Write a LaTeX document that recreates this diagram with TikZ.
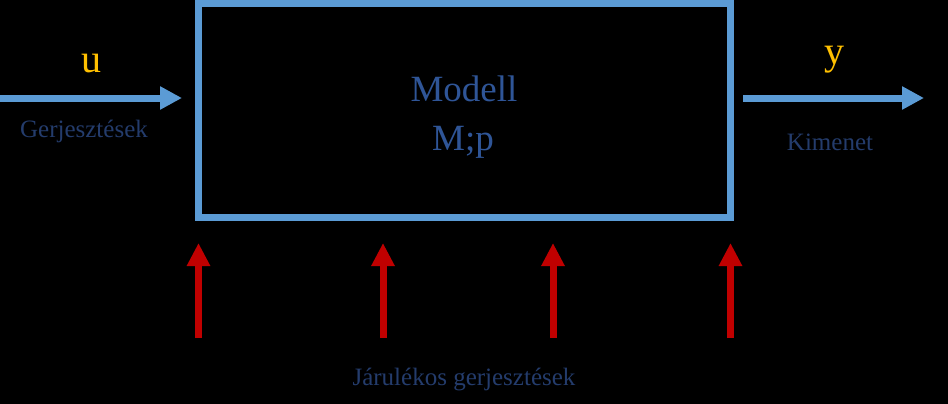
\documentclass[tikz,border=0pt]{standalone}
\usepackage{fontspec}
\setmainfont{Liberation Serif}
\usetikzlibrary{arrows.meta}

\definecolor{lineblue}{RGB}{91,155,213}
\definecolor{gold}{RGB}{255,192,0}
\definecolor{darkred}{RGB}{192,0,0}
\definecolor{modelltext}{RGB}{47,85,151}
\definecolor{labeltext}{RGB}{36,60,108}

\tikzstyle{box} = [rectangle, draw=lineblue, line width=7pt, minimum width=532pt, minimum height=214pt, inner sep=0pt]
\tikzstyle{io} = [draw=lineblue, line width=7pt, -{Triangle[width=22pt,length=22pt]}]
\tikzstyle{dist} = [draw=darkred, line width=7pt, -{Triangle[width=22pt,length=23pt]}]
\tikzstyle{sig} = [anchor=base, inner sep=0pt, text=gold, font=\fontsize{40}{48}\selectfont]
\tikzstyle{lbl} = [anchor=base, inner sep=0pt, text=labeltext, font=\fontsize{25}{30}\selectfont]
\tikzstyle{mtxt} = [anchor=base, inner sep=0pt, text=modelltext, font=\fontsize{37}{44}\selectfont]

\begin{document}
\begin{tikzpicture}[x=1pt,y=-1pt]
\path[use as bounding box, fill=black] (0,0) rectangle (948,404);

\node[box] (Modell) at (464.5,110.5) {};
\node[mtxt] (ModellName) at (464,102) {Modell};
\node[mtxt] (ModellPar) at (463,150) {M;p};

\coordinate (In) at (0,98);
\coordinate (Out) at (924,98);
\node[sig] (U) at (91,73) {u};
\node[sig] (Y) at (834,65) {y};
\node[lbl] (Gerj) at (84,137) {Gerjesztések};
\node[lbl] (Kimenet) at (830,150) {Kimenet};
\node[lbl] (Jarulekos) at (464,385) {Járulékos gerjesztések};

\path
  (In) edge[io, shorten >=13pt] (In -| Modell.west)
  (Out -| Modell.east) edge[io, shorten <=9pt] (Out)
  ;

\foreach \x [count=\i] in {198.5,383,553,730.5}
  {
  \coordinate (J\i) at (\x,338);
  \path (J\i) edge[dist, shorten >=22pt] (J\i |- Modell.south);
  }

\end{tikzpicture}
\end{document}
